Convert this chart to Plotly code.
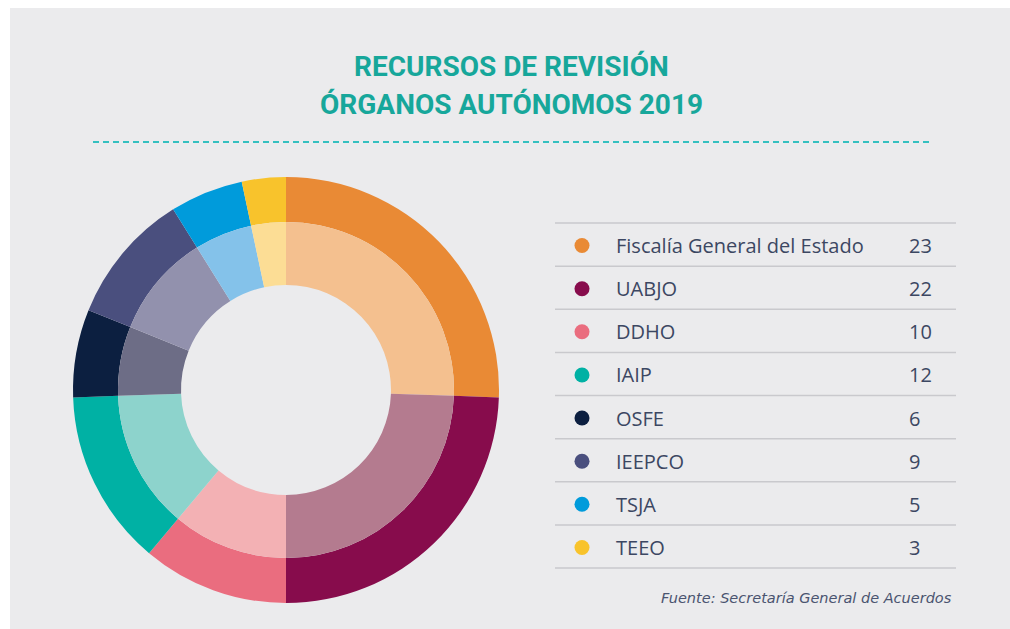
import plotly.graph_objects as go

# ---- data ----
labels = ["Fiscalía General del Estado", "UABJO", "DDHO", "IAIP", "OSFE", "IEEPCO", "TSJA", "TEEO"]
values = [23, 22, 10, 12, 6, 9, 5, 3]
outer_colors = ["#e98a35", "#870c4c", "#ea6d7f", "#00b1a4", "#0c1f40", "#4a4f7e", "#009bdb", "#f8c32c"]
inner_colors = ["#f4c08f", "#b47b8f", "#f3b1b4", "#8dd3cc", "#6d6d86", "#9291ad", "#84c2ea", "#fcdd95"]
title_lines = ["RECURSOS DE REVISIÓN", "ÓRGANOS AUTÓNOMOS 2019"]
source = "Fuente: Secretaría General de Acuerdos"

W, H = 1010, 629
BG = "#ebebed"
TEAL = "#17a79b"
TXT = "#3c4762"

# donut geometry (pixels)
cx, cy = 286, 390
r_out, r_mid, r_in = 213, 168, 105


def dom(r):
    return dict(x=[(cx - r) / W, (cx + r) / W], y=[(H - cy - r) / H, (H - cy + r) / H])


fig = go.Figure()
fig.add_trace(go.Pie(labels=labels, values=values, sort=False, direction="clockwise", rotation=0,
                     hole=r_mid / r_out, domain=dom(r_out), textinfo="none", hoverinfo="label+value",
                     marker=dict(colors=outer_colors, line=dict(width=0)), showlegend=False))
fig.add_trace(go.Pie(labels=labels, values=values, sort=False, direction="clockwise", rotation=0,
                     hole=r_in / r_mid, domain=dom(r_mid), textinfo="none", hoverinfo="label+value",
                     marker=dict(colors=inner_colors, line=dict(width=0)), showlegend=False))

# legend table
x_line0, x_line1 = 555, 956
line_top, row_h = 223, 43.125
rows_y = [line_top + row_h * (i + 0.5) + 1 for i in range(len(labels))]

fig.add_trace(go.Scatter(x=[582] * len(labels), y=rows_y, mode="markers",
                         marker=dict(size=15, color=outer_colors, line=dict(width=0)),
                         hoverinfo="skip", showlegend=False))

shapes = [dict(type="rect", xref="x", yref="y", x0=10, x1=W, y0=8, y1=H,
               fillcolor=BG, line=dict(width=0), layer="below"),
          dict(type="line", xref="x", yref="y", x0=93, x1=930, y0=142, y1=142,
               line=dict(color="#35c0c0", width=2, dash="6px,4px"))]
for i in range(len(labels) + 1):
    yy = line_top + row_h * i
    shapes.append(dict(type="line", xref="x", yref="y", x0=x_line0, x1=x_line1, y0=yy, y1=yy,
                       line=dict(color="#c9c9cd", width=1.5)))

ann = []
for i, (lab, v) in enumerate(zip(labels, values)):
    ann.append(dict(x=614, y=rows_y[i], xref="x", yref="y", text=lab, showarrow=False,
                    xanchor="left", yanchor="middle", font=dict(family="Open Sans", size=20, color=TXT)))
    ann.append(dict(x=907, y=rows_y[i], xref="x", yref="y", text=str(v), showarrow=False,
                    xanchor="left", yanchor="middle", font=dict(family="Open Sans", size=20, color=TXT)))

title_font = dict(family="Roboto", size=28, color=TEAL, weight="bold")
ann.append(dict(x=511, y=66, xref="x", yref="y", text=title_lines[0], showarrow=False,
                xanchor="center", yanchor="middle", font=title_font))
ann.append(dict(x=511, y=104, xref="x", yref="y", text=title_lines[1], showarrow=False,
                xanchor="center", yanchor="middle", font=title_font))
ann.append(dict(x=954, y=598, xref="x", yref="y", text="<i>" + source + "</i>", showarrow=False,
                xanchor="right", yanchor="middle", font=dict(family="DejaVu Sans", size=14.5, color="#4a5470")))

fig.update_layout(
    width=W, height=H, margin=dict(l=0, r=0, t=0, b=0),
    paper_bgcolor="white", plot_bgcolor="rgba(0,0,0,0)",
    xaxis=dict(range=[0, W], visible=False, fixedrange=True),
    yaxis=dict(range=[H, 0], visible=False, fixedrange=True),
    shapes=shapes, annotations=ann, showlegend=False,
)

fig.write_html("out.html", config={"displayModeBar": False},
               post_script="document.body.style.margin='0';document.body.style.overflow='hidden';")
